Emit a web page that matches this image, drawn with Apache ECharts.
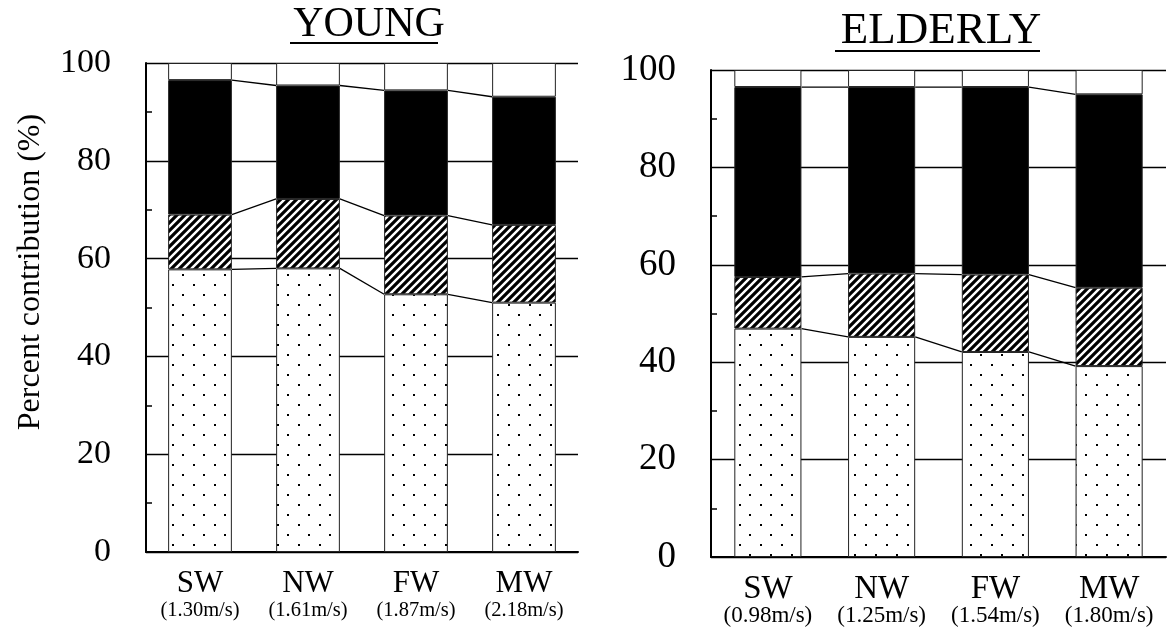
<!DOCTYPE html>
<html>
<head>
<meta charset="utf-8">
<script src="https://cdn.jsdelivr.net/npm/echarts@6/dist/echarts.min.js"></script>
<style>
html,body{margin:0;padding:0;background:#fff;}
#chart{width:1170px;height:634px;}
</style>
</head>
<body>
<div id="chart"></div>
<script>
// ---- data ----
const categories = ['SW', 'NW', 'FW', 'MW'];
const youngSpeeds = ['(1.30m/s)', '(1.61m/s)', '(1.87m/s)', '(2.18m/s)'];
const elderlySpeeds = ['(0.98m/s)', '(1.25m/s)', '(1.54m/s)', '(1.80m/s)'];
// segment contributions (%), bottom to top
const youngDotted  = [57.8, 58.0, 52.7, 51.0];
const youngHatched = [11.2, 14.2, 16.1, 15.9];
const youngBlack   = [27.5, 23.2, 25.6, 26.2];
const youngWhite   = [3.5, 4.6, 5.6, 6.9];
const elderlyDotted  = [46.9, 45.2, 42.1, 39.2];
const elderlyHatched = [10.6, 13.0, 15.9, 16.1];
const elderlyBlack   = [39.0, 38.3, 38.5, 39.7];
const elderlyWhite   = [3.5, 3.5, 3.5, 5.0];
const yTicks = [0, 20, 40, 60, 80, 100];

// ---- patterns ----
function dotPattern() {
  const c = document.createElement('canvas');
  c.width = 21; c.height = 20;
  const g = c.getContext('2d');
  g.fillStyle = '#fff'; g.fillRect(0, 0, 21, 20);
  g.fillStyle = '#000';
  g.fillRect(4, 4, 2, 2);
  g.fillRect(14, 14, 2, 2);
  return c;
}
function hatchPattern() {
  const s = 8;
  const c = document.createElement('canvas');
  c.width = s; c.height = s;
  const g = c.getContext('2d');
  g.fillStyle = '#fff'; g.fillRect(0, 0, s, s);
  g.strokeStyle = '#000'; g.lineWidth = 3.2;
  g.beginPath();
  g.moveTo(-s, s * 2); g.lineTo(s * 2, -s);
  g.moveTo(-s, s); g.lineTo(s, -s);
  g.moveTo(0, s * 2); g.lineTo(s * 2, 0);
  g.stroke();
  return c;
}
const DOT = { image: dotPattern(), repeat: 'repeat' };
const HATCH = { image: hatchPattern(), repeat: 'repeat' };

const BAR_FRAC = 0.59;
const FONT = '"Liberation Serif", "Times New Roman", serif';

function cumulate(arrs) {
  const out = []; let acc = arrs[0].map(() => 0);
  arrs.forEach(a => { acc = acc.map((v, i) => v + a[i]); out.push(acc.slice()); });
  return out;
}

function barSeries(idx, stack, arrs) {
  const fills = [DOT, HATCH, '#000', '#fff'];
  return arrs.map((a, k) => ({
    type: 'bar', xAxisIndex: idx, yAxisIndex: idx, stack: stack,
    data: a, barWidth: (BAR_FRAC * 100) + '%',
    itemStyle: { color: fills[k], borderColor: '#222', borderWidth: 1 },
    silent: true, z: 3
  }));
}

function connectorSeries(idx, arrs) {
  const tops = cumulate(arrs).slice(0, 3);
  return {
    type: 'custom', xAxisIndex: idx, yAxisIndex: idx, z: 4, silent: true,
    data: categories.slice(0, -1).map((c, i) => [i, tops[0][i]]),
    renderItem: function (params, api) {
      const i = params.dataIndex;
      const half = api.size([1, 0])[0] * BAR_FRAC / 2;
      return {
        type: 'group',
        children: tops.map(arr => {
          const p1 = api.coord([i, arr[i]]);
          const p2 = api.coord([i + 1, arr[i + 1]]);
          return { type: 'line', shape: { x1: p1[0] + half, y1: p1[1], x2: p2[0] - half, y2: p2[1] },
                   style: { stroke: '#000', lineWidth: 1.3 } };
        })
      };
    }
  };
}

function xAxis(idx, speeds, fa, fb) {
  return {
    type: 'category', gridIndex: idx, data: categories,
    axisLine: { lineStyle: { color: '#000', width: 2 } },
    axisTick: { show: false },
    axisLabel: {
      margin: 18,
      formatter: (v, i) => '{a|' + v + '}\n{b|' + speeds[i] + '}',
      rich: {
        a: { fontFamily: FONT, fontSize: fa, lineHeight: 28, color: '#000' },
        b: { fontFamily: FONT, fontSize: fb, lineHeight: 25, color: '#000' }
      }
    }
  };
}
function yAxis(idx, fs) {
  return {
    type: 'value', gridIndex: idx, min: yTicks[0], max: yTicks[yTicks.length - 1], interval: 20,
    axisLine: { show: true, lineStyle: { color: '#000', width: 2 } },
    axisTick: { show: true, inside: true, length: 6, lineStyle: { color: '#000' } },
    minorTick: { show: true, splitNumber: 2, length: 6, lineStyle: { color: '#000', width: 1.5 } },
    splitLine: { show: true, lineStyle: { color: '#000', width: 1.3 } },
    axisLabel: { fontFamily: FONT, fontSize: fs, color: '#000', margin: 35 }
  };
}

const chart = echarts.init(document.getElementById('chart'));
chart.setOption({
  backgroundColor: '#fff',
  animation: false,
  title: [
    { text: 'YOUNG', left: 364, top: -1, textAlign: 'center',
      textStyle: { fontFamily: FONT, fontSize: 42, fontWeight: 'normal', color: '#000' } },
    { text: 'ELDERLY', left: 936, top: 4, textAlign: 'center',
      textStyle: { fontFamily: FONT, fontSize: 45, fontWeight: 'normal', color: '#000' } }
  ],
  graphic: [
    { type: 'line', shape: { x1: 290, y1: 43, x2: 438, y2: 43 }, style: { stroke: '#000', lineWidth: 2 } },
    { type: 'line', shape: { x1: 835, y1: 51, x2: 1040, y2: 51 }, style: { stroke: '#000', lineWidth: 2 } },
    { type: 'text', x: 31, y: 272, rotation: Math.PI / 2,
      style: { text: 'Percent contribution (%)', font: '32px ' + FONT, fill: '#000',
               textAlign: 'center', textVerticalAlign: 'middle' } }
  ],
  grid: [
    { left: 146, top: 63, width: 432, height: 489 },
    { left: 711, top: 70, width: 455, height: 487 }
  ],
  xAxis: [xAxis(0, youngSpeeds, 31, 20.5), xAxis(1, elderlySpeeds, 33, 23)],
  yAxis: [yAxis(0, 34), yAxis(1, 37)],
  series: [
    ...barSeries(0, 'young', [youngDotted, youngHatched, youngBlack, youngWhite]),
    connectorSeries(0, [youngDotted, youngHatched, youngBlack, youngWhite]),
    ...barSeries(1, 'elderly', [elderlyDotted, elderlyHatched, elderlyBlack, elderlyWhite]),
    connectorSeries(1, [elderlyDotted, elderlyHatched, elderlyBlack, elderlyWhite])
  ]
});
</script>
</body>
</html>
